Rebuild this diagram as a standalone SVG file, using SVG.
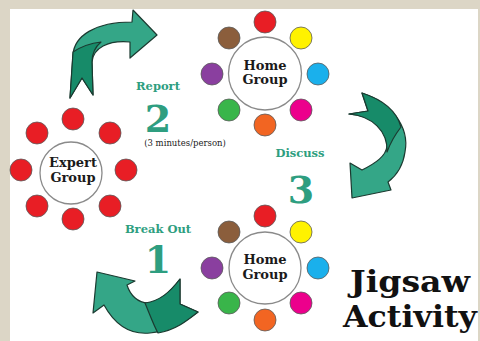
<svg xmlns="http://www.w3.org/2000/svg" width="480" height="341" viewBox="0 0 480 341">
<style>
.ring{fill:#fff;stroke:#8a8a8a;stroke-width:1.3}
.dot{stroke:#5a5a5a;stroke-width:0.8}
.lbl{font-family:"DejaVu Serif","Liberation Serif",serif;font-weight:bold;font-size:13px;fill:#1a1a1a;text-anchor:middle}
.step{font-family:"DejaVu Serif","Liberation Serif",serif;font-weight:bold;font-size:11.5px;fill:#2e9e80;text-anchor:middle}
.num{font-family:"DejaVu Serif","Liberation Serif",serif;font-weight:bold;font-size:38px;fill:#2e9e80;text-anchor:middle}
.note{font-family:"DejaVu Serif","Liberation Serif",serif;font-size:8.5px;fill:#222;text-anchor:middle}
.title{font-family:"DejaVu Serif","Liberation Serif",serif;font-weight:bold;font-size:30px;fill:#111;text-anchor:middle}
.light{fill:#34a687;stroke:#1b3a30;stroke-width:1.2;stroke-linejoin:round}
.dark{fill:#178b69;stroke:#1b3a30;stroke-width:1.2;stroke-linejoin:round}
.red{fill:#e81e25}.yel{fill:#fff200}.blu{fill:#1ab0ec}.mag{fill:#ec008c}.ora{fill:#f26522}.grn{fill:#39b54a}.pur{fill:#8a3f9f}.brn{fill:#8b5e3c}
</style>
<rect width="480" height="341" fill="#dcd6c6"/>
<rect x="10" y="9" width="468" height="332" fill="#ffffff"/>

<g id="expert-group">
<circle class="dot red" cx="73" cy="119" r="11"/>
<circle class="dot red" cx="110" cy="133" r="11"/>
<circle class="dot red" cx="126" cy="170" r="11"/>
<circle class="dot red" cx="110" cy="206" r="11"/>
<circle class="dot red" cx="73" cy="219" r="11"/>
<circle class="dot red" cx="37" cy="206" r="11"/>
<circle class="dot red" cx="21" cy="170" r="11"/>
<circle class="dot red" cx="37" cy="133" r="11"/>
<circle class="ring" cx="71" cy="173" r="31"/>
<text class="lbl" x="73" y="167">Expert</text>
<text class="lbl" x="73" y="182">Group</text>
</g>

<g id="home-group-top">
<circle class="dot red" cx="265" cy="22" r="11"/>
<circle class="dot yel" cx="301" cy="38" r="11"/>
<circle class="dot blu" cx="318" cy="74" r="11"/>
<circle class="dot mag" cx="301" cy="110" r="11"/>
<circle class="dot ora" cx="265" cy="125" r="11"/>
<circle class="dot grn" cx="229" cy="110" r="11"/>
<circle class="dot pur" cx="212" cy="74" r="11"/>
<circle class="dot brn" cx="229" cy="38" r="11"/>
<circle class="ring" cx="265" cy="73.5" r="36.5"/>
<text class="lbl" x="265" y="70">Home</text>
<text class="lbl" x="265" y="84">Group</text>
</g>

<g id="home-group-bottom">
<circle class="dot red" cx="265" cy="216" r="11"/>
<circle class="dot yel" cx="301" cy="232" r="11"/>
<circle class="dot blu" cx="318" cy="268" r="11"/>
<circle class="dot mag" cx="301" cy="303" r="11"/>
<circle class="dot ora" cx="265" cy="320" r="11"/>
<circle class="dot grn" cx="229" cy="303" r="11"/>
<circle class="dot pur" cx="212" cy="268" r="11"/>
<circle class="dot brn" cx="229" cy="232" r="11"/>
<circle class="ring" cx="265" cy="268" r="36"/>
<text class="lbl" x="265" y="264">Home</text>
<text class="lbl" x="265" y="279">Group</text>
</g>

<g id="connectors">
<g id="arrow-report">
<path class="light" d="M70,98 L73,55 C74,36 95,22 132,22 L133,10 L157,35 L130,58 L130,42 C108,40 93,48 92,62 L93,95 L82,78 Z"/>
<path class="dark" d="M70,98 L73,52 C82,46 92,43 101,42 C95,47 92,54 92,62 L93,95 L82,78 Z"/>
</g>
<g id="arrow-discuss">
<path class="light" d="M362,93 C390,102 410,126 405,152 C403,166 396,176 388,182 L391,190 L352,198 L350,163 L362,170 C376,163 386,156 387,146 C388,128 372,116 349,114 L368,111 Z"/>
<path class="dark" d="M362,93 C384,100 397,112 401,127 C394,136 390,144 387,152 C388,131 372,116 349,114 L368,111 Z"/>
</g>
<g id="arrow-breakout">
<path class="light" d="M180,279 C170,292 160,302 148,303 C138,303 130,295 127,285 L135,281 L97,272 L93,313 L104,305 C115,325 130,335 150,333 C170,331 185,322 198,312 L180,304 Z"/>
<path class="dark" d="M180,279 C170,292 160,301 145,303 C150,315 154,326 158,333 C176,330 188,320 198,312 L180,304 Z"/>
</g>
</g>

<g id="labels">
<text class="step" x="158" y="90">Report</text>
<text class="num" x="158" y="132">2</text>
<text class="note" x="185" y="146">(3 minutes/person)</text>
<text class="step" x="300" y="157">Discuss</text>
<text class="num" x="301" y="203">3</text>
<text class="step" x="158" y="233">Break Out</text>
<text class="num" x="158" y="273">1</text>
<text class="title" x="410" y="292" textLength="120" lengthAdjust="spacingAndGlyphs">Jigsaw</text>
<text class="title" x="410" y="327" textLength="134" lengthAdjust="spacingAndGlyphs">Activity</text>
</g>
</svg>
